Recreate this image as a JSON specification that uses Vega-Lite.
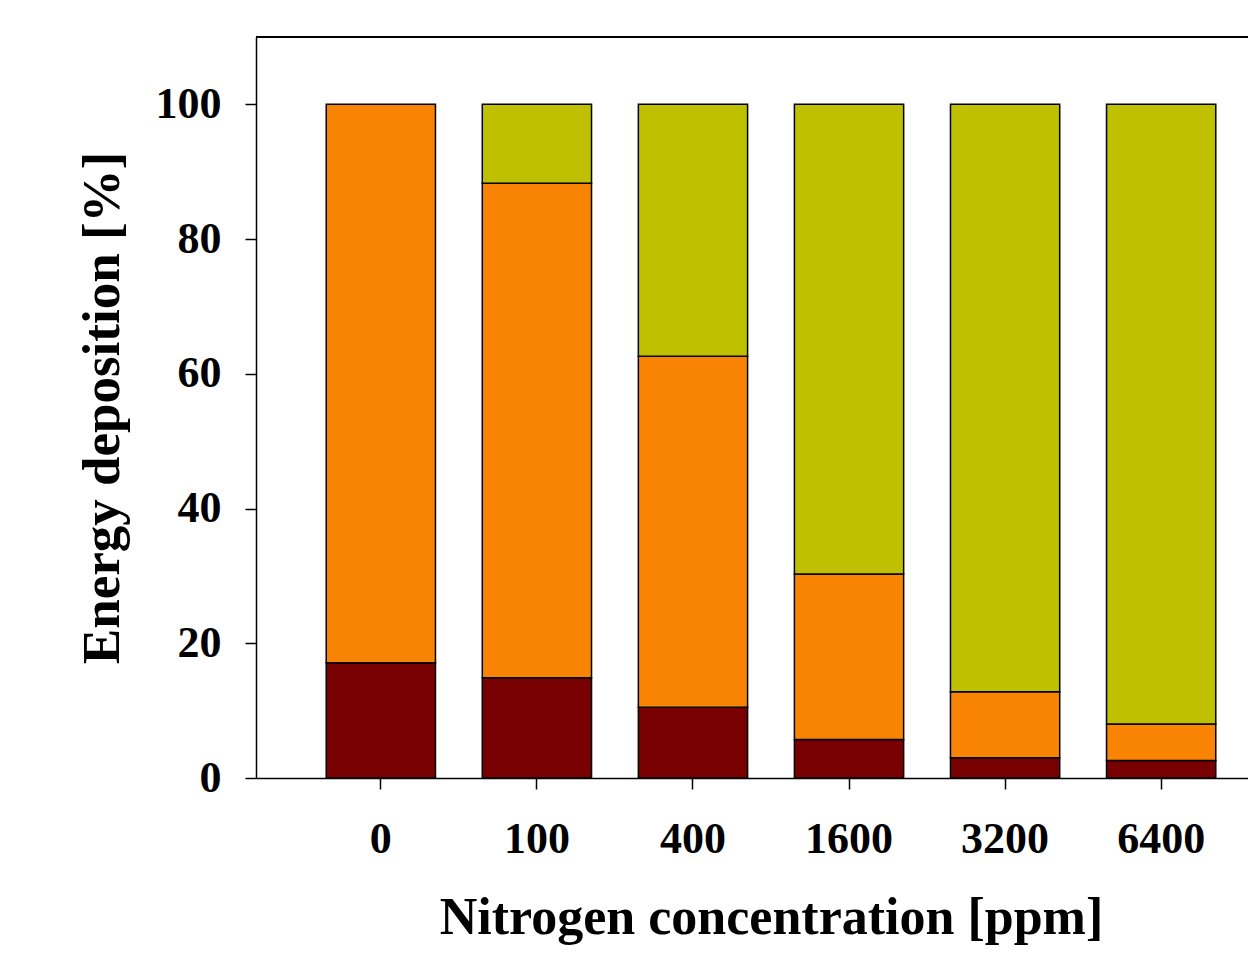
{
  "$schema": "https://vega.github.io/schema/vega-lite/v6.json",
  "autosize": "none",
  "width": 992,
  "height": 741,
  "padding": {"left": 256, "top": 37, "right": 0, "bottom": 177},
  "background": "white",
  "config": {
    "view": {"stroke": null},
    "axis": {
      "labelFont": "Liberation Serif",
      "titleFont": "Liberation Serif",
      "labelFontWeight": "bold",
      "titleFontWeight": "bold",
      "labelColor": "black",
      "titleColor": "black",
      "domainColor": "black",
      "tickColor": "black",
      "domainWidth": 1.5,
      "tickWidth": 1.5,
      "tickSize": 11,
      "grid": false,
      "labelFontSize": 44
    }
  },
  "data": {
    "values": [
      {"conc": "0", "part": "S1", "k": 1, "value": 17.1},
      {"conc": "0", "part": "S2", "k": 2, "value": 82.9},
      {"conc": "100", "part": "S1", "k": 1, "value": 14.9},
      {"conc": "100", "part": "S2", "k": 2, "value": 73.4},
      {"conc": "100", "part": "S3", "k": 3, "value": 11.7},
      {"conc": "400", "part": "S1", "k": 1, "value": 10.5},
      {"conc": "400", "part": "S2", "k": 2, "value": 52.1},
      {"conc": "400", "part": "S3", "k": 3, "value": 37.4},
      {"conc": "1600", "part": "S1", "k": 1, "value": 5.7},
      {"conc": "1600", "part": "S2", "k": 2, "value": 24.6},
      {"conc": "1600", "part": "S3", "k": 3, "value": 69.7},
      {"conc": "3200", "part": "S1", "k": 1, "value": 3.0},
      {"conc": "3200", "part": "S2", "k": 2, "value": 9.8},
      {"conc": "3200", "part": "S3", "k": 3, "value": 87.2},
      {"conc": "6400", "part": "S1", "k": 1, "value": 2.6},
      {"conc": "6400", "part": "S2", "k": 2, "value": 5.4},
      {"conc": "6400", "part": "S3", "k": 3, "value": 92.0}
    ]
  },
  "layer": [
    {
      "mark": {"type": "bar", "stroke": "black", "strokeWidth": 1.5},
      "encoding": {
        "x": {
          "field": "conc",
          "type": "ordinal",
          "sort": ["0", "100", "400", "1600", "3200", "6400"],
          "scale": {"range": [0, 1030], "paddingInner": 0.3, "paddingOuter": 0.45},
          "axis": {
            "labelAngle": 0,
            "labelPadding": 28,
            "title": "Nitrogen concentration [ppm]",
            "titleFontSize": 52,
            "titlePadding": 31
          }
        },
        "y": {
          "field": "value",
          "type": "quantitative",
          "stack": "zero",
          "scale": {"domain": [0, 110], "nice": false},
          "axis": {
            "values": [0, 20, 40, 60, 80, 100],
            "labelPadding": 24,
            "title": "Energy deposition [%]",
            "titleFontSize": 53,
            "titlePadding": 26
          }
        },
        "color": {
          "field": "part",
          "type": "nominal",
          "scale": {"domain": ["S1", "S2", "S3"], "range": ["#780000", "#f98302", "#bfc000"]},
          "legend": null
        },
        "order": {"field": "k", "type": "quantitative", "sort": "ascending"}
      }
    },
    {
      "mark": {"type": "rule", "color": "black", "strokeWidth": 1.5},
      "encoding": {"y": {"datum": 110, "type": "quantitative"}}
    }
  ]
}
